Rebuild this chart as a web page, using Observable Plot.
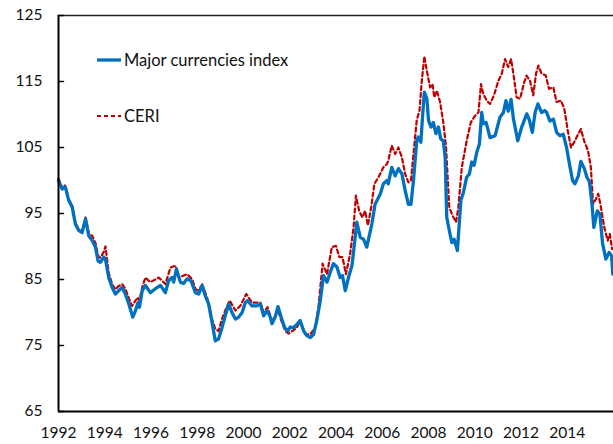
<!DOCTYPE html>
<html>
<head>
<meta charset="utf-8">
<script src="https://cdn.jsdelivr.net/npm/d3@7"></script>
<script src="https://cdn.jsdelivr.net/npm/@observablehq/plot@0.6"></script>
<style>
  html, body { margin: 0; padding: 0; background: #fff; }
  #wrap { position: relative; width: 613px; height: 444px; font-family: Lato, "Open Sans", sans-serif; }
  #legend { position: absolute; left: 97px; top: 47px; font-size: 16.5px; color: #111; }
  .item { position: absolute; white-space: nowrap; display: flex; align-items: center; }
  .item svg { margin-right: 3px; }
</style>
</head>
<body>
<div id="wrap">
  <div id="chart"></div>
  <div id="legend"></div>
</div>
<script>
const seriesNames = ["Major currencies index", "CERI"];
const xTicks = [1992, 1994, 1996, 1998, 2000, 2002, 2004, 2006, 2008, 2010, 2012, 2014];
const yTicks = [65, 75, 85, 95, 105, 115, 125];

const majorYears = [1992.00,1992.16,1992.30,1992.44,1992.59,1992.73,1992.88,1993.02,1993.17,1993.31,1993.46,1993.60,1993.71,1993.81,1993.96,1994.03,1994.17,1994.32,1994.46,1994.60,1994.75,1994.89,1995.04,1995.21,1995.33,1995.44,1995.50,1995.62,1995.76,1995.97,1996.19,1996.41,1996.62,1996.76,1996.91,1996.98,1997.10,1997.27,1997.41,1997.56,1997.73,1997.92,1998.06,1998.21,1998.35,1998.49,1998.64,1998.78,1998.92,1999.07,1999.21,1999.36,1999.50,1999.65,1999.79,1999.94,2000.08,2000.18,2000.37,2000.58,2000.73,2000.87,2001.02,2001.16,2001.23,2001.37,2001.49,2001.63,2001.78,2001.92,2002.02,2002.16,2002.31,2002.45,2002.60,2002.74,2002.89,2003.03,2003.17,2003.32,2003.46,2003.61,2003.75,2003.89,2004.04,2004.18,2004.28,2004.40,2004.54,2004.69,2004.83,2004.90,2005.05,2005.19,2005.33,2005.55,2005.69,2005.91,2006.05,2006.20,2006.26,2006.41,2006.56,2006.70,2006.85,2006.99,2007.13,2007.24,2007.35,2007.49,2007.56,2007.67,2007.75,2007.82,2007.93,2008.00,2008.11,2008.21,2008.32,2008.43,2008.53,2008.64,2008.72,2008.79,2008.93,2009.01,2009.11,2009.25,2009.40,2009.51,2009.65,2009.77,2009.87,2009.97,2010.09,2010.20,2010.30,2010.37,2010.49,2010.66,2010.88,2011.09,2011.24,2011.35,2011.45,2011.57,2011.67,2011.86,2012.03,2012.25,2012.35,2012.49,2012.61,2012.73,2012.89,2013.02,2013.11,2013.25,2013.40,2013.54,2013.68,2013.83,2013.97,2014.12,2014.23,2014.33,2014.48,2014.59,2014.74,2014.85,2014.96,2015.07,2015.15,2015.30,2015.41,2015.53,2015.67,2015.81,2015.92,2015.97];
const majorValues = [100.0,98.7,99.0,97.0,96.0,93.4,92.4,92.1,94.2,91.6,90.9,89.9,87.8,87.6,88.4,88.1,85.3,83.8,82.8,83.3,83.8,82.8,81.3,79.3,80.3,81.5,80.8,83.3,84.1,83.0,83.6,84.1,83.0,84.8,85.3,84.6,86.6,84.6,84.4,85.1,84.8,83.0,82.8,84.1,82.5,81.3,78.5,75.7,76.0,77.7,79.5,81.3,80.0,79.0,79.3,80.0,81.5,81.8,81.0,81.0,81.3,79.5,80.3,79.3,78.3,79.3,80.9,79.3,77.7,77.2,77.8,77.7,78.2,78.8,77.2,76.5,76.2,76.7,78.8,81.8,85.6,84.6,86.1,87.4,86.9,85.3,85.6,83.3,85.3,87.1,91.4,93.7,91.4,91.1,89.9,93.4,96.4,97.9,99.5,100.0,99.5,102.0,100.7,101.8,101.0,98.5,96.4,96.4,100.0,106.0,106.6,105.8,110.1,113.4,112.4,109.1,108.1,108.8,107.1,108.1,106.3,106.0,103.5,94.4,91.9,90.6,91.1,89.4,97.0,98.2,100.5,101.0,102.8,102.3,104.3,105.5,110.3,108.6,108.8,106.5,106.8,109.6,110.3,112.1,110.5,112.3,109.4,106.0,108.1,110.1,109.3,107.3,110.3,111.6,110.3,110.6,110.3,109.0,109.3,107.3,106.8,107.0,105.0,102.0,100.0,99.5,100.7,102.9,101.8,100.5,99.8,96.4,92.9,95.4,94.9,90.4,88.1,89.1,88.6,85.8];

const ceriYears = [1992.00,1992.16,1992.27,1992.44,1992.59,1992.73,1992.88,1993.02,1993.17,1993.31,1993.46,1993.60,1993.71,1993.81,1993.96,1994.03,1994.17,1994.32,1994.46,1994.60,1994.75,1994.89,1995.04,1995.18,1995.33,1995.44,1995.50,1995.62,1995.76,1995.97,1996.19,1996.33,1996.49,1996.62,1996.84,1997.06,1997.20,1997.41,1997.56,1997.77,1997.92,1998.06,1998.21,1998.35,1998.49,1998.64,1998.78,1998.92,1999.07,1999.21,1999.40,1999.65,1999.86,2000.12,2000.37,2000.58,2000.73,2000.87,2001.04,2001.16,2001.24,2001.49,2001.63,2001.81,2001.95,2002.11,2002.31,2002.45,2002.67,2002.89,2003.10,2003.24,2003.42,2003.61,2003.82,2004.00,2004.14,2004.28,2004.43,2004.61,2004.76,2004.86,2005.00,2005.14,2005.26,2005.38,2005.52,2005.66,2005.84,2006.05,2006.20,2006.26,2006.41,2006.56,2006.70,2006.85,2006.99,2007.13,2007.24,2007.35,2007.49,2007.61,2007.71,2007.82,2007.95,2008.07,2008.17,2008.25,2008.36,2008.50,2008.64,2008.76,2008.90,2009.05,2009.19,2009.29,2009.44,2009.65,2009.83,2010.01,2010.16,2010.27,2010.37,2010.52,2010.66,2010.83,2011.02,2011.17,2011.31,2011.45,2011.57,2011.67,2011.81,2011.96,2012.14,2012.24,2012.39,2012.53,2012.65,2012.75,2012.89,2013.07,2013.21,2013.40,2013.54,2013.73,2013.87,2014.02,2014.16,2014.33,2014.48,2014.59,2014.73,2014.90,2015.02,2015.12,2015.24,2015.34,2015.46,2015.60,2015.75,2015.84,2015.94];
const ceriValues = [100.3,98.9,99.3,97.2,96.2,93.6,92.5,92.3,94.4,92.0,91.6,90.5,88.6,88.3,89.2,90.0,86.0,84.3,83.5,84.0,84.3,83.6,82.2,81.0,81.8,82.3,81.8,83.8,85.3,84.6,85.0,85.3,84.8,84.3,86.8,87.1,85.3,85.6,85.8,85.1,83.6,83.2,84.3,83.0,81.5,79.0,77.5,77.2,79.0,80.3,81.8,80.3,81.0,82.8,81.5,81.5,81.5,80.0,80.8,79.5,78.5,80.4,78.8,77.2,76.8,77.2,77.7,78.8,76.7,76.7,77.7,80.8,87.4,85.8,89.9,90.1,88.4,88.4,85.8,88.9,92.9,97.7,95.4,94.4,95.4,93.2,95.9,99.5,100.5,102.0,102.5,103.0,105.3,104.0,105.0,103.5,101.0,99.7,100.0,104.0,109.1,110.6,115.1,118.8,116.2,114.1,114.6,112.6,113.6,111.9,108.8,105.0,95.9,94.6,93.7,95.9,102.0,106.0,108.8,109.8,110.3,114.6,113.1,112.1,111.6,112.9,115.1,116.2,118.4,117.2,118.4,116.2,112.6,112.4,114.9,115.9,115.1,112.9,116.2,117.4,116.2,115.9,113.9,114.1,111.9,112.1,110.9,107.6,105.0,106.0,107.1,107.8,106.0,104.5,102.0,96.4,97.2,98.0,95.9,92.9,90.9,91.9,89.6];

const major = majorYears.map((t, i) => ({t, v: majorValues[i]}));
const ceri = ceriYears.map((t, i) => ({t, v: ceriValues[i]}));

const blue = "#0070C0";
const red = "#C00000";
const tickShape = { draw(ctx, l) { ctx.moveTo(0, 0); ctx.lineTo(0, -l); } };

const chart = Plot.plot({
  width: 613,
  height: 444,
  marginLeft: 58,
  marginRight: 0,
  marginTop: 15,
  marginBottom: 33,
  style: { fontFamily: "Lato, 'Open Sans', sans-serif", fontSize: "15.5px", color: "#111", background: "#fff" },
  x: { domain: [1992, 2016] },
  y: { domain: [65, 125] },
  marks: [
    Plot.ruleY([125], { stroke: "#222", strokeWidth: 1.5 }),
    Plot.line(ceri, { x: "t", y: "v", stroke: red, strokeWidth: 2.2, strokeDasharray: "4,3" }),
    Plot.line(major, { x: "t", y: "v", stroke: blue, strokeWidth: 3.3, strokeLinejoin: "round" }),
    Plot.ruleX([1992], { stroke: "#000", strokeWidth: 2 }),
    Plot.ruleY([65], { stroke: "#000", strokeWidth: 2 }),
    Plot.vector(yTicks, { y: d => d, frameAnchor: "left", rotate: 90, length: 5, anchor: "start", shape: tickShape, stroke: "#000", strokeWidth: 1.5 }),
    Plot.axisY(yTicks, { tickSize: 0, tickPadding: 16, label: null, tickFormat: d => String(d) }),
    Plot.axisX(xTicks, { tickSize: 0, tickPadding: 15, label: null, tickFormat: d => String(d) })
  ]
});
document.getElementById("chart").appendChild(chart);

const legend = document.getElementById("legend");
const items = [
  { name: seriesNames[0], color: blue, width: 3.3, dash: null, top: 0 },
  { name: seriesNames[1], color: red, width: 2.2, dash: "4,3", top: 56 }
];
for (const it of items) {
  const div = document.createElement("div");
  div.className = "item";
  div.style.top = it.top + "px";
  div.innerHTML = `<svg width="24" height="26"><line x1="0" x2="24" y1="13" y2="13" stroke="${it.color}" stroke-width="${it.width}" ${it.dash ? `stroke-dasharray="${it.dash}"` : ""}/></svg><span>${it.name}</span>`;
  legend.appendChild(div);
}
</script>
</body>
</html>
